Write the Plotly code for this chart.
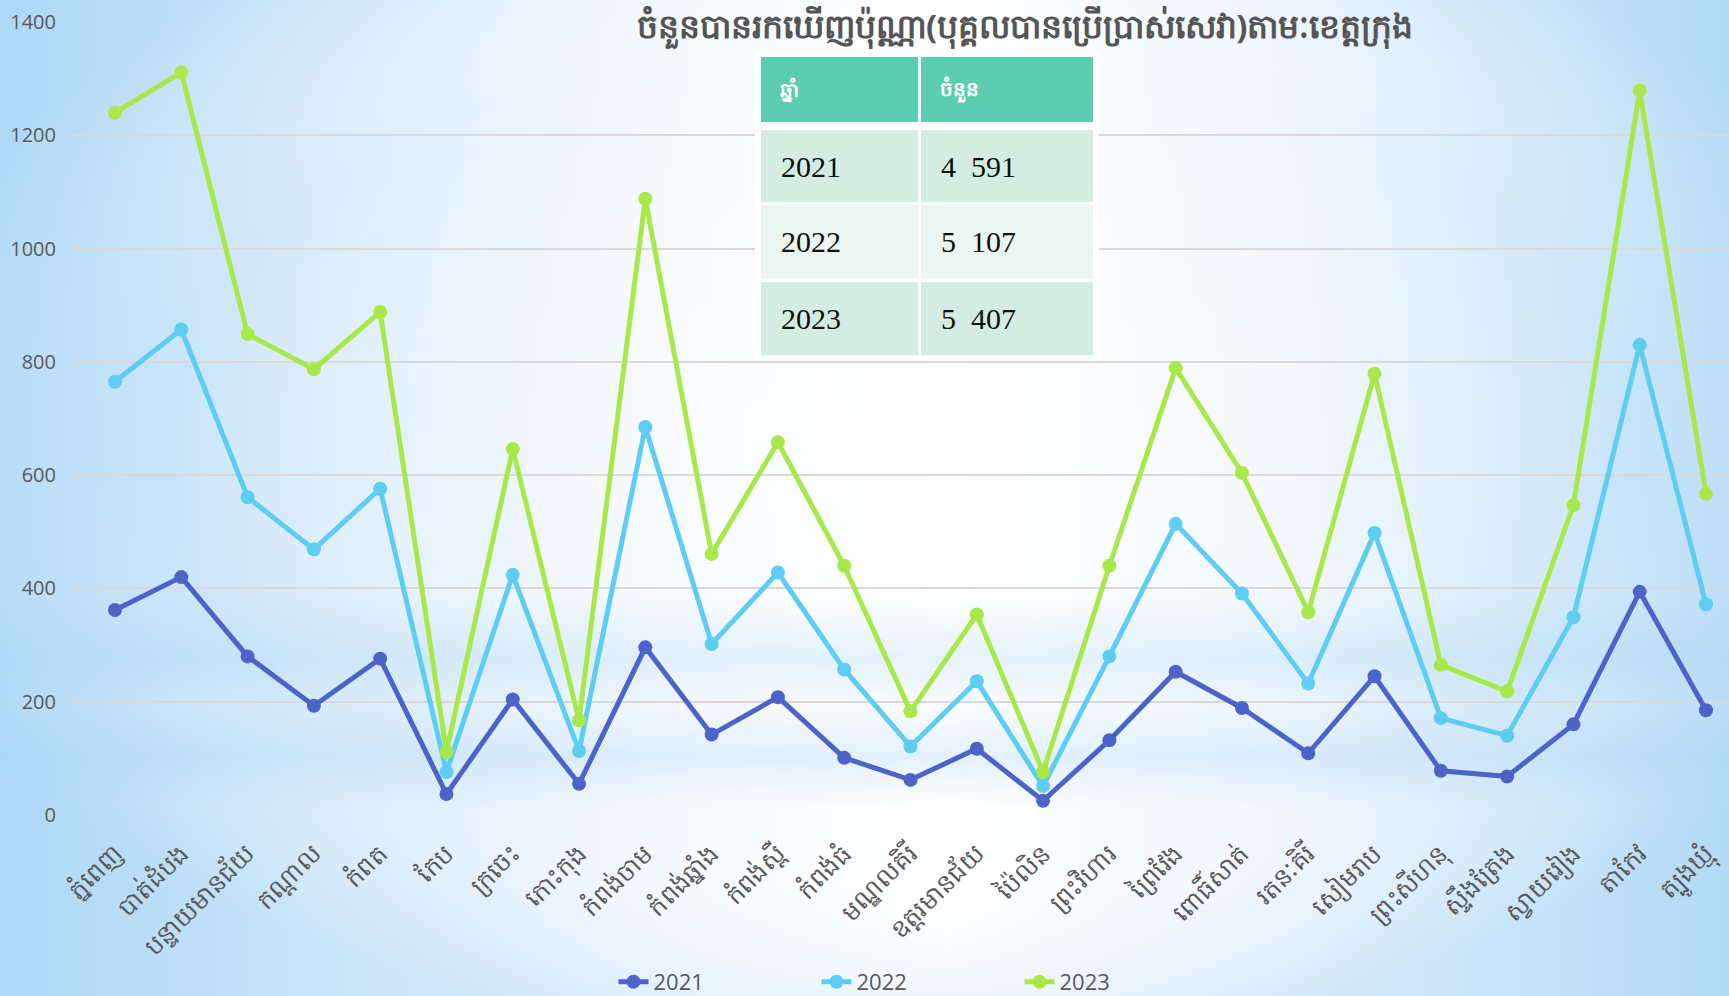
import base64
import plotly.graph_objects as go

provinces = ["ភ្នំពេញ", "បាត់ដំបង", "បន្ទាយមានជ័យ", "កណ្ដាល", "កំពត", "កែប", "ក្រចេះ",
             "កោះកុង", "កំពង់ចាម", "កំពង់ឆ្នាំង", "កំពង់ស្ពឺ", "កំពង់ធំ", "មណ្ឌលគិរី",
             "ឧត្តរមានជ័យ", "ប៉ៃលិន", "ព្រះវិហារ", "ព្រៃវែង", "ពោធិ៍សាត់", "រតនៈគិរី",
             "សៀមរាប", "ព្រះសីហនុ", "ស្ទឹងត្រែង", "ស្វាយរៀង", "តាកែវ", "ត្បូងឃ្មុំ"]

v2021 = [362, 420, 280, 193, 276, 37, 204, 55, 296, 142, 208, 101, 62, 117, 25,
         132, 253, 189, 109, 245, 78, 68, 160, 394, 185]
v2022 = [403, 437, 281, 276, 300, 39, 220, 58, 389, 160, 220, 156, 59, 119, 26,
         148, 261, 202, 123, 253, 93, 72, 189, 436, 187]
v2023 = [475, 454, 288, 318, 312, 35, 222, 54, 403, 159, 230, 183, 62, 118, 25,
         160, 275, 213, 126, 281, 94, 78, 198, 449, 195]

years = ["2021", "2022", "2023"]
totals = ["4 591", "5 107", "5 407"]
series = [v2021, v2022, v2023]
colors = ["#4D63C8", "#5ECDF2", "#A9E84B"]

title_text = "ចំនួនបានរកឃើញប៉ុណ្ណា(បុគ្គលបានប្រើប្រាស់សេវា)តាមៈខេត្តក្រុង"
hdr = ["ឆ្នាំ", "ចំនួន"]

W, H = 1729, 996
L, R, T, B = 71, 0, 22, 181
pw, ph = W - L - R, H - T - B


def xp(px):
    return (px - L) / pw


def yp(py):
    return (H - B - py) / ph


fig = go.Figure()
for name, vals, c in zip(years, series, colors):
    fig.add_trace(go.Scatter(
        x=list(range(len(provinces))), y=vals, name=name, mode="lines+markers",
        stackgroup="s", fill="none",
        line=dict(color=c, width=5), marker=dict(color=c, size=14),
    ))

# ---- table drawn with shapes + annotations ----
col_x = [(761, 918), (921, 1093)]
row_y = [(57, 122), (130, 202), (205, 278), (282, 355)]
row_fill = ["#5CCDB0", "#D3EDE3", "#EAF6F1", "#D3EDE3"]

fig.add_shape(type="rect", xref="paper", yref="paper", x0=xp(755), x1=xp(1099),
              y0=yp(361), y1=yp(51), fillcolor="#FFFFFF", line=dict(width=0), layer="above")
for ri, (ya, yb) in enumerate(row_y):
    for ci, (xa, xb) in enumerate(col_x):
        fig.add_shape(type="rect", xref="paper", yref="paper", x0=xp(xa), x1=xp(xb),
                      y0=yp(yb), y1=yp(ya), fillcolor=row_fill[ri], line=dict(width=0),
                      layer="above")

for ci, h in enumerate(hdr):
    fig.add_annotation(text=f"<b>{h}</b>", xref="paper", yref="paper",
                       x=xp(col_x[ci][0] + 17), y=yp((row_y[0][0] + row_y[0][1]) / 2),
                       xanchor="left", yanchor="middle", showarrow=False,
                       font=dict(color="white", size=20))
for ri, (yr, tot) in enumerate(zip(years, totals)):
    ym = yp((row_y[ri + 1][0] + row_y[ri + 1][1]) / 2)
    for ci, t in enumerate([yr, tot]):
        fig.add_annotation(text=t.replace(" ", "\u2002"), xref="paper", yref="paper",
                           x=xp(col_x[ci][0] + 18), y=ym, xanchor="left", yanchor="middle",
                           showarrow=False,
                           font=dict(color="#111111", size=30, family="Liberation Serif"))

# ---- background ----
svg = f'''<svg xmlns="http://www.w3.org/2000/svg" width="{W}" height="{H}" viewBox="0 0 {W} {H}" preserveAspectRatio="none">
<defs>
<linearGradient id="h" x1="0" y1="0" x2="1" y2="0">
<stop offset="0%" stop-color="#b3daf7"/>
<stop offset="18%" stop-color="#d9ecfb"/>
<stop offset="40%" stop-color="#f6fafe"/>
<stop offset="55%" stop-color="#ffffff"/>
<stop offset="75%" stop-color="#eef6fd"/>
<stop offset="90%" stop-color="#d2e9fa"/>
<stop offset="100%" stop-color="#b8dcf7"/>
</linearGradient>
<radialGradient id="g" cx="52%" cy="45%" r="60%">
<stop offset="0%" stop-color="#ffffff" stop-opacity="0.55"/>
<stop offset="70%" stop-color="#ffffff" stop-opacity="0"/>
<stop offset="100%" stop-color="#a8d4f4" stop-opacity="0.35"/>
</radialGradient>
<linearGradient id="band" x1="0" y1="0" x2="0" y2="1">
<stop offset="0%" stop-color="#a6d3f4" stop-opacity="0"/>
<stop offset="60%" stop-color="#a6d3f4" stop-opacity="0"/>
<stop offset="66%" stop-color="#a6d3f4" stop-opacity="0.28"/>
<stop offset="71%" stop-color="#a6d3f4" stop-opacity="0.05"/>
<stop offset="76%" stop-color="#a6d3f4" stop-opacity="0.30"/>
<stop offset="81%" stop-color="#a6d3f4" stop-opacity="0"/>
<stop offset="100%" stop-color="#a6d3f4" stop-opacity="0"/>
</linearGradient>
</defs>
<rect width="100%" height="100%" fill="url(#h)"/>
<rect width="100%" height="100%" fill="url(#g)"/>
<rect width="100%" height="100%" fill="url(#band)"/>
</svg>'''
src = "data:image/svg+xml;base64," + base64.b64encode(svg.encode()).decode()

fig.add_layout_image(dict(source=src, xref="paper", yref="paper",
                          x=-L / pw, y=1 + T / ph, sizex=W / pw, sizey=H / ph,
                          sizing="stretch", xanchor="left", yanchor="top", layer="below"))

fig.add_annotation(text=f"<b>{title_text}</b>", xref="paper", yref="paper",
                   x=xp(1025), y=yp(1), xanchor="center", yanchor="top",
                   showarrow=False, font=dict(size=33, color="#555555"))

px_per = (1706 - 115) / 24
x0 = (L - 115) / px_per
x1 = (W - R - 115) / px_per

fig.update_layout(
    width=W, height=H,
    margin=dict(l=L, r=R, t=T, b=B, pad=0, autoexpand=False),
    paper_bgcolor="#ffffff", plot_bgcolor="rgba(0,0,0,0)",
    showlegend=True,
    legend=dict(orientation="h", x=xp(918), xanchor="center", y=yp(982), yanchor="middle",
                font=dict(size=22, color="#595959", family="Open Sans"),
                entrywidth=158, bgcolor="rgba(0,0,0,0)"),
    xaxis=dict(range=[x0, x1], tickmode="array", tickvals=list(range(len(provinces))),
               ticktext=provinces, tickangle=-45, showgrid=False, zeroline=False,
               showline=False, ticks="", ticklabelstandoff=18, automargin=False,
               tickfont=dict(size=25, color="#595959")),
    yaxis=dict(range=[0, 1400], dtick=200, showgrid=True, gridcolor="#D9D9D9", gridwidth=2,
               zeroline=False, showline=False, ticks="", ticklabelstandoff=14, automargin=False,
               tickfont=dict(size=20, color="#595959", family="Open Sans")),
)

fig.write_html("out.html", config={"displayModeBar": False},
               post_script="document.body.style.margin='0';document.body.style.overflow='hidden';")
